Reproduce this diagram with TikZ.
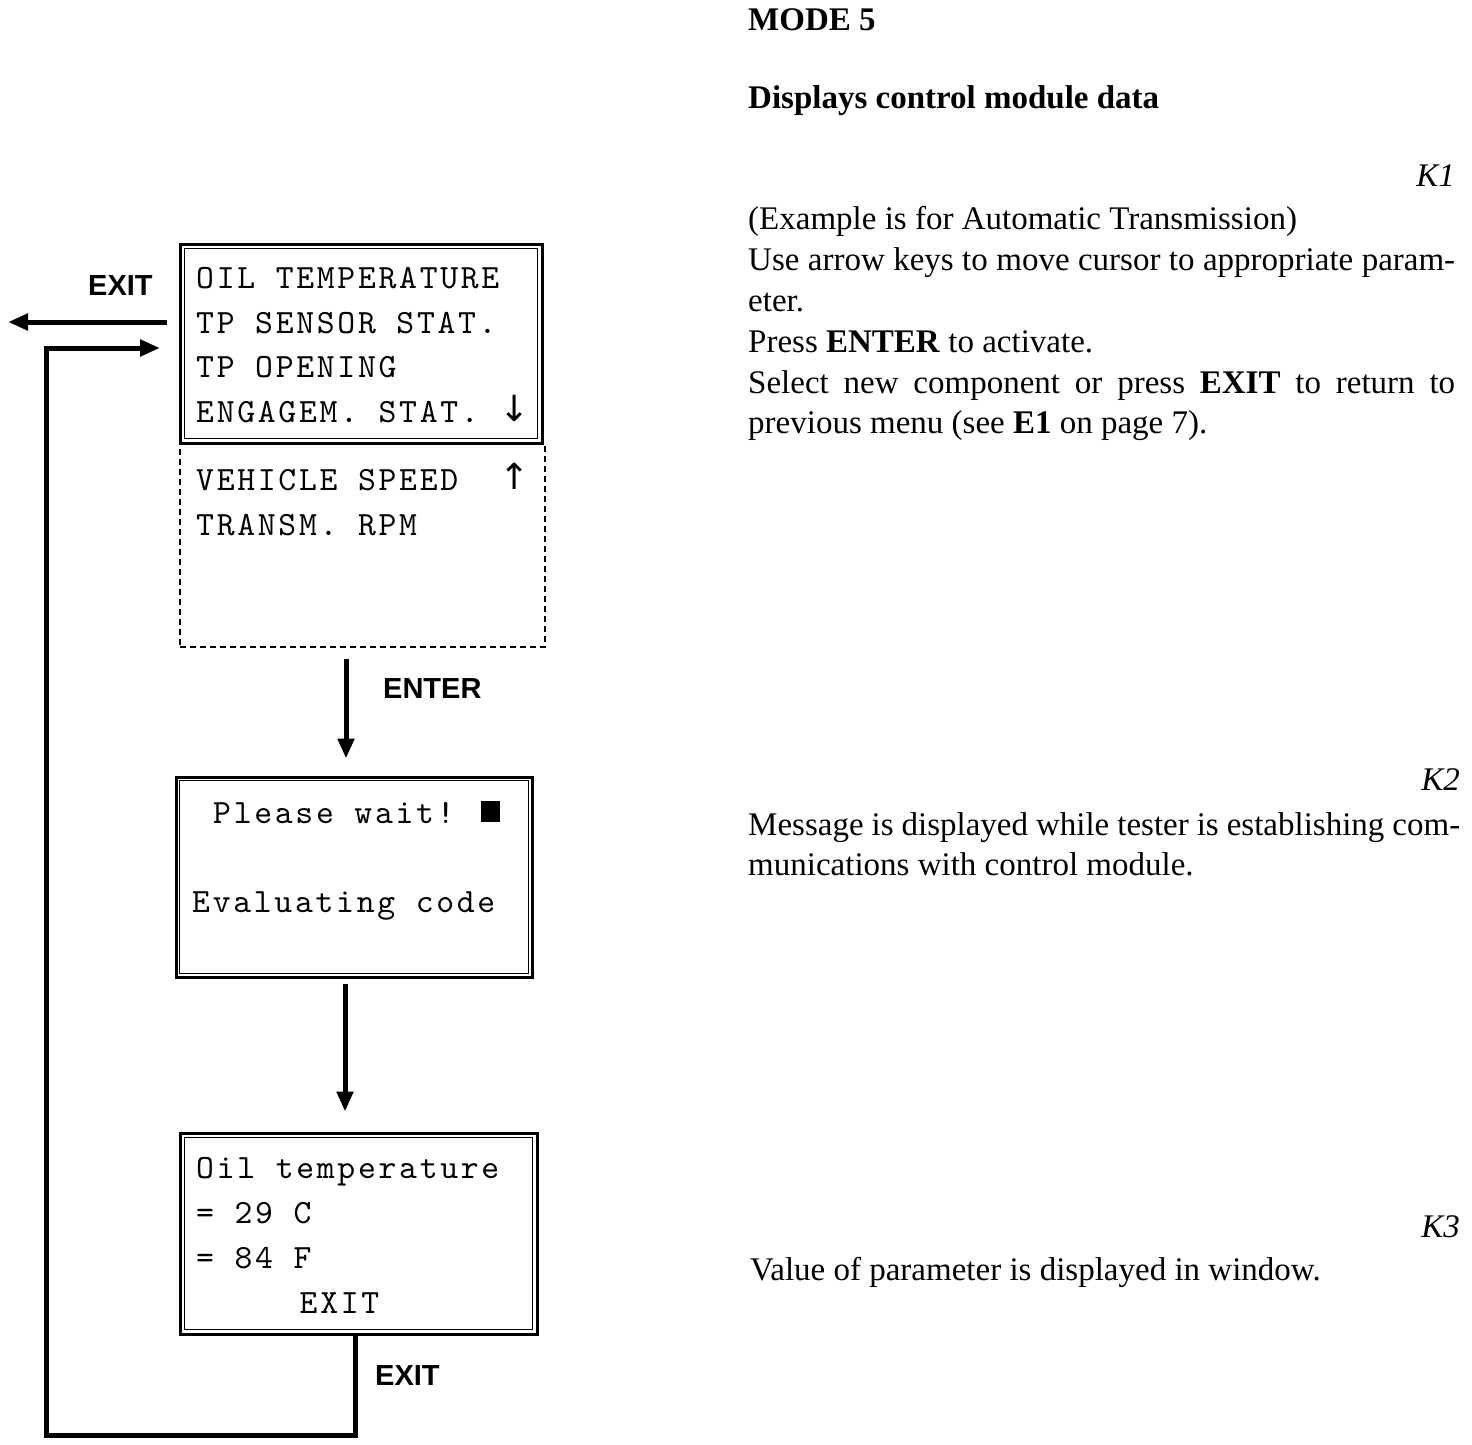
\documentclass[tikz,border=0pt]{standalone}
\usepackage{fontspec}
\setmainfont{Liberation Serif}
\newfontfamily\labelfont{Liberation Sans}
\newfontfamily\lcd{lmmono10-regular.otf}[LetterSpace=8]
\newfontfamily\symfont{DejaVu Sans}
\usetikzlibrary{arrows.meta}
\tikzset{
  outerbox/.style={draw, line width=3pt, inner sep=0pt},
  innerline/.style={line width=1.8pt},
  dashbox/.style={draw, line width=1.5pt, dash pattern=on 6pt off 4pt, inner sep=0pt},
  lcdtext/.style={anchor=base west, inner sep=0pt, font=\fontsize{34}{40}\lcd},
  symtext/.style={anchor=base, inner sep=0pt, font=\fontsize{36}{40}\symfont},
  keylabel/.style={anchor=base west, inner sep=0pt, font=\fontsize{29}{34}\labelfont\bfseries},
  body/.style={anchor=base west, inner sep=0pt, font=\fontsize{33}{40}\selectfont},
  kmark/.style={anchor=base east, inner sep=0pt, font=\fontsize{33}{40}\selectfont\itshape},
  conn/.style={line width=5pt, line join=miter, -{Triangle[length=20pt,width=16pt]}},
}
\begin{document}
\begin{tikzpicture}[x=1pt,y=-1pt]
\useasboundingbox (0,0) rectangle (1472,1444);

% ---- box 1 (menu) ----
\node[outerbox, minimum width=362pt, minimum height=199pt] (box1) at (361,343.5) {};
\draw[innerline] ([shift={(6,6)}]box1.north west) rectangle ([shift={(-6,-6)}]box1.south east);
\node[dashbox, minimum width=365pt, minimum height=204pt] (box1b) at (362.5,545) {};
\node[lcdtext] (l1) at (196,288) {OIL TEMPERATURE};
\node[lcdtext] (l2) at (196,333) {TP SENSOR STAT.};
\node[lcdtext] (l3) at (196,377) {TP OPENING};
\node[lcdtext] (l4) at (196,422) {ENGAGEM. STAT.};
\node[symtext] (dn) at (515,421) {↓};
\node[lcdtext] (l5) at (196,490) {VEHICLE SPEED};
\node[lcdtext] (l6) at (196,535) {TRANSM. RPM};
\node[symtext] (up) at (515,489) {↑};

% ---- box 2 ----
\node[outerbox, minimum width=356pt, minimum height=200pt] (box2) at (354,877) {};
\draw[innerline] ([shift={(5,5)}]box2.north west) rectangle ([shift={(-5,-5)}]box2.south east);
\node[lcdtext] (p1) at (213,823) {Please wait!};
\node[fill, minimum width=19pt, minimum height=21pt, inner sep=0pt] (cur) at (490.5,811) {};
\node[lcdtext] (p2) at (192,912) {Evaluating code};

% ---- box 3 ----
\node[outerbox, minimum width=357pt, minimum height=201pt] (box3) at (358.5,1233.5) {};
\draw[innerline] ([shift={(6,6)}]box3.north west) rectangle ([shift={(-6,-6)}]box3.south east);
\node[lcdtext] (o1) at (196,1178) {Oil temperature};
\node[lcdtext] (o2) at (196,1223) {= 29 C};
\node[lcdtext] (o3) at (196,1268) {= 84 F};
\node[lcdtext] (o4) at (299.5,1313) {EXIT};

% ---- connectors ----
\coordinate (exitOut) at (8,322);
\coordinate (loopBL) at (46,1435);
\coordinate (loopIn) at (160,348);
\coordinate (ex1) at (346,0);
\coordinate (ex2) at (345,0);
\draw[conn, shorten <=12pt] (box1.west |- exitOut) -- (exitOut);
\draw[conn] ([xshift=-3.5pt]box3.south) |- (loopBL) |- (loopIn);
\draw[conn, shorten <=11pt, shorten >=17pt] (box1b.south -| ex1) -- (box2.north -| ex1);
\draw[conn, shorten <=5pt, shorten >=20pt] (box2.south -| ex2) -- (box3.north -| ex2);

\node[keylabel] (lexit1) at (88,295) {EXIT};
\node[keylabel] (lenter) at (383,698) {ENTER};
\node[keylabel] (lexit2) at (375,1385) {EXIT};

% ---- right-hand text ----
\node[body, font=\fontsize{33}{40}\selectfont\bfseries] (mode) at (748,30) {MODE 5};
\node[body, font=\fontsize{33}{40}\selectfont\bfseries] (disp) at (748,108) {Displays control module data};
\node[kmark] (k1) at (1455,186) {K1};
\node[body] (r1) at (748,229) {(Example is for Automatic Transmission)};
\node[body] (r2) at (748,270) {\makebox[707pt][s]{Use arrow keys to move cursor to appropriate param-}};
\node[body] (r3) at (748,311) {eter.};
\node[body] (r4) at (748,352) {Press \textbf{ENTER} to activate.};
\node[body] (r5) at (748,393) {\makebox[707pt][s]{Select new component or press \textbf{EXIT} to return to}};
\node[body] (r6) at (748,433) {previous menu (see \textbf{E1} on page 7).};
\node[kmark] (k2) at (1460,790) {K2};
\node[body] (m1) at (748,835) {\makebox[712pt][s]{Message is displayed while tester is establishing com-}};
\node[body] (m2) at (748,875) {munications with control module.};
\node[kmark] (k3) at (1460,1237) {K3};
\node[body] (v1) at (750,1280) {Value of parameter is displayed in window.};
\end{tikzpicture}
\end{document}
